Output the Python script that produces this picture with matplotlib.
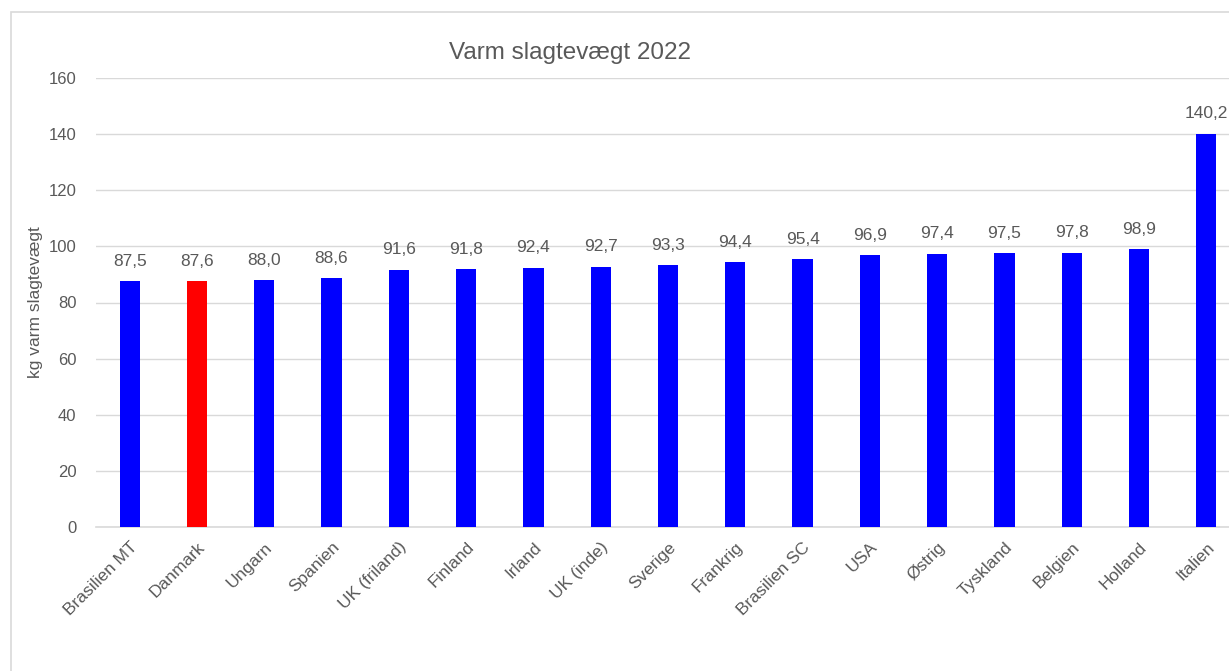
import matplotlib.pyplot as plt
from matplotlib.patches import Rectangle

plt.rcParams['font.family'] = ['Liberation Sans', 'DejaVu Sans']

# data
countries = ['Brasilien MT', 'Danmark', 'Ungarn', 'Spanien', 'UK (friland)', 'Finland',
             'Irland', 'UK (inde)', 'Sverige', 'Frankrig', 'Brasilien SC', 'USA',
             'Østrig', 'Tyskland', 'Belgien', 'Holland', 'Italien']
weights = [87.5, 87.6, 88.0, 88.6, 91.6, 91.8, 92.4, 92.7, 93.3, 94.4, 95.4, 96.9,
           97.4, 97.5, 97.8, 98.9, 140.2]
highlight = 'Danmark'
y_ticks = [0, 20, 40, 60, 80, 100, 120, 140, 160]

text_col = '#595959'
grid_col = '#d9d9d9'

W, H = 1229, 671
fig = plt.figure(figsize=(W / 100, H / 100), dpi=100)

# outer chart border (cropped at right/bottom like the screenshot)
fig.patches.append(Rectangle((11 / W, -0.1), 1.2, (H - 12) / H + 0.1,
                             transform=fig.transFigure, fill=False,
                             edgecolor=grid_col, linewidth=1.2))

left, right, top, bottom = 96, 1240, 78, 527
ax = fig.add_axes([left / W, (H - bottom) / H, (right - left) / W, (bottom - top) / H])

colors = ['#ff0000' if c == highlight else '#0000ff' for c in countries]
x = range(len(countries))
bars = ax.bar(x, weights, width=0.3, color=colors, zorder=3)

for b, v in zip(bars, weights):
    ax.annotate(('%.1f' % v).replace('.', ','), (b.get_x() + b.get_width() / 2, v),
                xytext=(0, 9), textcoords='offset points', ha='center', va='bottom',
                fontsize=12.5, color=text_col)

ax.set_xlim(-0.5, len(countries) - 0.5)
ax.set_ylim(0, 160)
ax.set_yticks(y_ticks)
ax.set_yticklabels([str(t) for t in y_ticks], fontsize=12, color=text_col)
ax.set_xticks(list(x))
ax.set_xticklabels(countries, rotation=45, ha='right', rotation_mode='anchor',
                   fontsize=12.5, color=text_col)
ax.tick_params(axis='both', length=0)
ax.tick_params(axis='y', pad=14)
ax.tick_params(axis='x', pad=9)
ax.grid(axis='y', color=grid_col, linewidth=1, zorder=0)
for s in ['top', 'right', 'left']:
    ax.spines[s].set_visible(False)
ax.spines['bottom'].set_color(grid_col)
ax.spines['bottom'].set_linewidth(1.2)

ax.set_ylabel('kg varm slagtevægt', fontsize=12.5, color=text_col, labelpad=4)

fig.text(570 / W, (H - 53) / H, 'Varm slagtevægt 2022', ha='center', va='center',
         fontsize=17.5, color=text_col)

fig.savefig('out.png', dpi=100)
